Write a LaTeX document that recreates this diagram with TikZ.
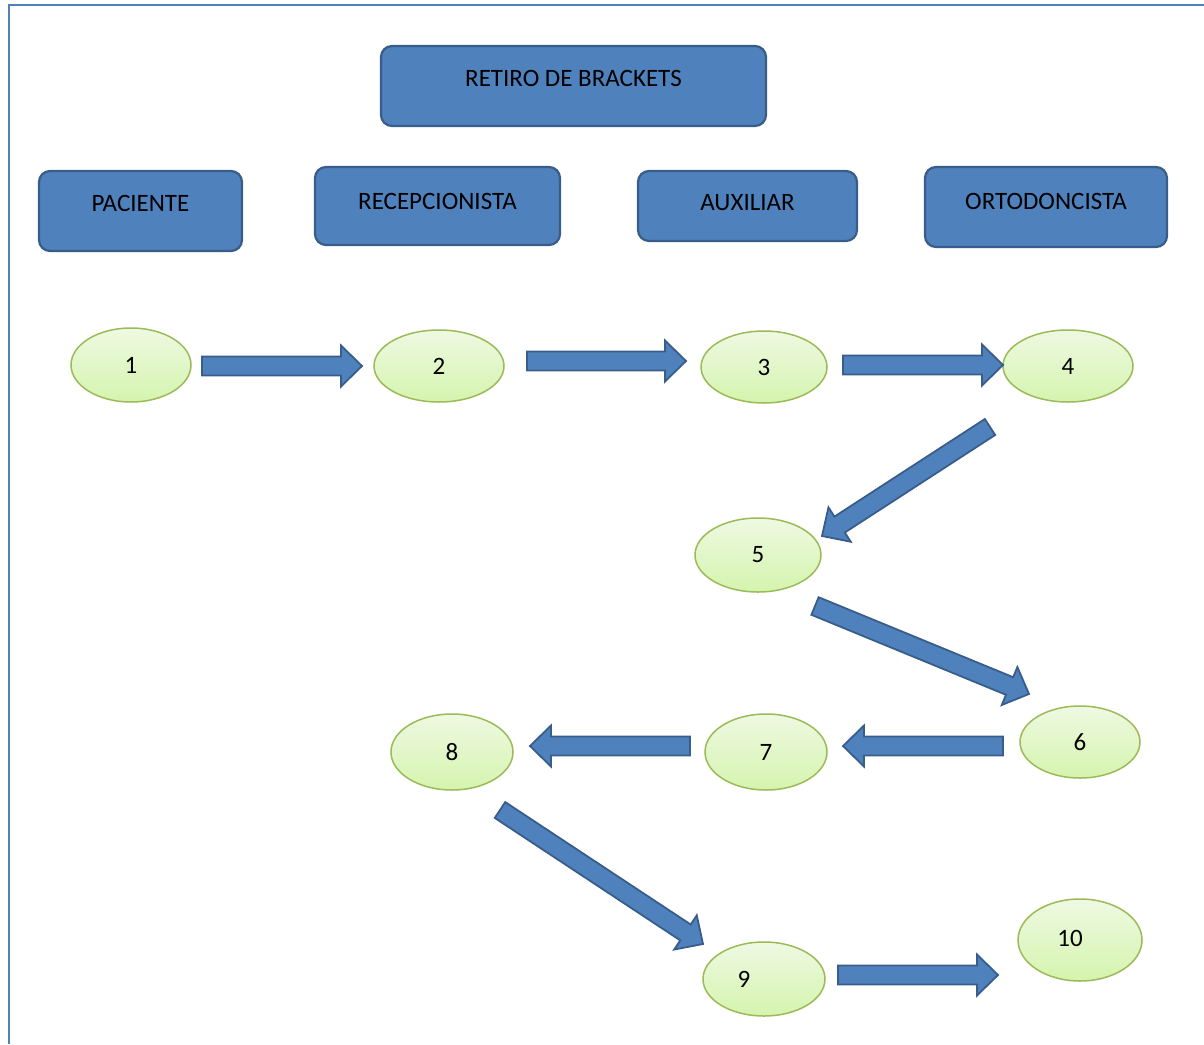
\documentclass[tikz,border=0pt]{standalone}
\usepackage{fontspec}
\setmainfont{Carlito}
\usetikzlibrary{shapes.geometric,calc}
\definecolor{boxblue}{HTML}{4F81BD}
\definecolor{boxedge}{HTML}{385D8A}
\definecolor{elltop}{HTML}{EEF9E2}
\definecolor{ellbot}{HTML}{D5F4AE}
\definecolor{elledge}{HTML}{9BBB59}
\tikzset{
 box/.style={draw=boxedge, fill=boxblue, line width=2.2pt, rounded corners=11pt, inner sep=0pt},
 btxt/.style={font=\fontsize{25}{30}\selectfont, text=black, inner sep=0pt},
 ell/.style={ellipse, draw=elledge, line width=1.5pt, top color=elltop, bottom color=ellbot, inner sep=0pt, font=\fontsize{25}{30}\selectfont, text=black},
 barrow/.style={draw=boxedge, fill=boxblue, line width=1.8pt, line join=miter},
 frameline/.style={draw=boxblue, line width=2pt}
}
\newcommand\mkbarrow[2]{%
 \path let \p1=(#1), \p2=(#2) in \pgfextra{%
   \pgfmathsetmacro\baang{atan2(\y2-\y1,\x2-\x1)}%
   \pgfmathsetmacro\balen{veclen(\x2-\x1,\y2-\y1)}%
   \pgfmathsetmacro\bashaft{\balen-21}%
   \xdef\baangG{\baang}\xdef\balenG{\balen}\xdef\bashaftG{\bashaft}};
 \filldraw[barrow, shift={(#1)}, rotate=\baangG] (0pt,-9.5pt) -- (\bashaftG pt,-9.5pt) -- (\bashaftG pt,-20.5pt) -- (\balenG pt,0pt) -- (\bashaftG pt,20.5pt) -- (\bashaftG pt,9.5pt) -- (0pt,9.5pt) -- cycle;
}
\begin{document}
\begin{tikzpicture}[x=1pt, y=-1pt]
\useasboundingbox (0,0) rectangle (1204,1044);
\draw[frameline] (1204,5) -- (9,5) -- (9,1044);

% header boxes
\node[box, minimum width=385pt, minimum height=80pt, label={[btxt,yshift=8pt]center:RETIRO DE BRACKETS}] (title) at (573.5,86) {};
\node[box, minimum width=203pt, minimum height=80pt, label={[btxt,yshift=8pt]center:PACIENTE}] (pac) at (140.5,211) {};
\node[box, minimum width=245pt, minimum height=78pt, label={[btxt,yshift=5pt]center:RECEPCIONISTA}] (rec) at (437.5,206) {};
\node[box, minimum width=219pt, minimum height=70pt, label={[btxt,yshift=3pt]center:AUXILIAR}] (aux) at (747.5,206) {};
\node[box, minimum width=242pt, minimum height=80pt, label={[btxt,yshift=6pt]center:ORTODONCISTA}] (ort) at (1046,207) {};

% step ellipses
\node[ell, minimum width=120pt, minimum height=74pt] (n1) at (131,365) {1};
\node[ell, minimum width=130pt, minimum height=72pt] (n2) at (439,366) {2};
\node[ell, minimum width=126pt, minimum height=72pt] (n3) at (764,367) {3};
\node[ell, minimum width=130pt, minimum height=72pt] (n4) at (1068,366) {4};
\node[ell, minimum width=126pt, minimum height=74pt] (n5) at (758,555) {5};
\node[ell, minimum width=120pt, minimum height=72pt] (n6) at (1080,742) {6};
\node[ell, minimum width=122pt, minimum height=76pt] (n7) at (766,752) {7};
\node[ell, minimum width=122pt, minimum height=76pt] (n8) at (452,752) {8};
\node[ell, minimum width=122pt, minimum height=74pt, label={[btxt,xshift=-20pt]center:9}] (n9) at (764,979) {};
\node[ell, minimum width=124pt, minimum height=82pt, label={[btxt,xshift=-10pt,yshift=2pt]center:10}] (n10) at (1080,940) {};

% arrow end points
\coordinate (a12s) at (202,366);  \coordinate (a12e) at (362,366);
\coordinate (a23s) at (527,361);  \coordinate (a23e) at (686,361);
\coordinate (a34s) at (843,365);  \coordinate (a34e) at (1003,365);
\coordinate (a45s) at (990,427);  \coordinate (a45e) at (822,536);
\coordinate (a56s) at (815,606);  \coordinate (a56e) at (1029,694);
\coordinate (a67s) at (1003,746); \coordinate (a67e) at (843,746);
\coordinate (a78s) at (690,746);  \coordinate (a78e) at (530,746);
\coordinate (a89s) at (500,810);  \coordinate (a89e) at (703,944);
\coordinate (a910s) at (838,975); \coordinate (a910e) at (998,975);

\mkbarrow{a12s}{a12e}
\mkbarrow{a23s}{a23e}
\mkbarrow{a34s}{a34e}
\mkbarrow{a45s}{a45e}
\mkbarrow{a56s}{a56e}
\mkbarrow{a67s}{a67e}
\mkbarrow{a78s}{a78e}
\mkbarrow{a89s}{a89e}
\mkbarrow{a910s}{a910e}
\end{tikzpicture}
\end{document}
